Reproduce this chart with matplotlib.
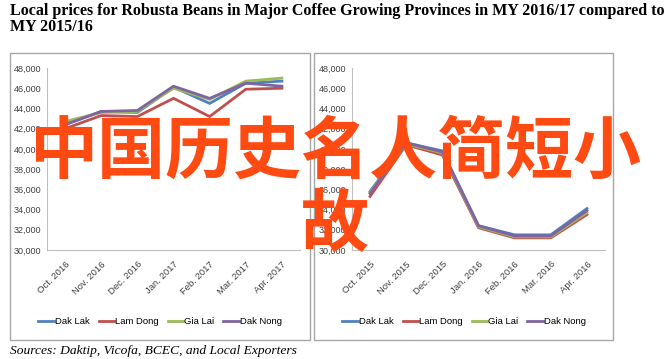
import matplotlib
matplotlib.use("Agg")
import matplotlib.pyplot as plt
from matplotlib.patches import Rectangle
from matplotlib.lines import Line2D

# Data
months_1617 = ["Oct. 2016", "Nov. 2016", "Dec. 2016", "Jan. 2017", "Feb. 2017", "Mar. 2017", "Apr. 2017"]
months_1516 = ["Oct. 2015", "Nov. 2015", "Dec. 2015", "Jan. 2016", "Feb. 2016", "Mar. 2016", "Apr. 2016"]
provinces = ["Dak Lak", "Lam Dong", "Gia Lai", "Dak Nong"]
colors = ["#4F81BD", "#C0504D", "#9BBB59", "#8064A2"]

dak_lak_1617 = [42400, 43700, 43600, 46100, 44500, 46500, 46700]
lam_dong_1617 = [42000, 43300, 43200, 45000, 43200, 45900, 46000]
gia_lai_1617 = [42700, 43600, 43700, 46000, 44900, 46700, 47000]
dak_nong_1617 = [42400, 43700, 43800, 46200, 45000, 46500, 46200]

dak_lak_1516 = [35800, 40600, 39800, 32400, 31500, 31500, 34100]
lam_dong_1516 = [35300, 40400, 39400, 32200, 31200, 31200, 33500]
gia_lai_1516 = [35700, 40500, 39600, 32300, 31300, 31300, 33700]
dak_nong_1516 = [35600, 40600, 39700, 32400, 31400, 31400, 33900]

yticks = list(range(30000, 48001, 2000))

W, H = 665, 359
fig = plt.figure(figsize=(W / 100, H / 100), dpi=100)
fig.patch.set_facecolor("white")

def fx(px):
    return px / W

def fy(py):
    return 1 - py / H

# panel frames
for x0, x1 in [(10, 310), (314, 613)]:
    fig.patches.append(Rectangle((fx(x0), fy(340)), fx(x1) - fx(x0), fy(53) - fy(340),
                                 transform=fig.transFigure, fill=False,
                                 edgecolor="#A6A6A6", linewidth=1.0))

tick_font = "Liberation Sans"

def draw_panel(left, right, labels, series, frame_mid):
    ax = fig.add_axes([fx(left), fy(250), fx(right) - fx(left), fy(68) - fy(250)])
    x = list(range(len(labels)))
    for vals, c in zip(series, colors):
        ax.plot(x, vals, color=c, linewidth=2.0)
    ax.set_xlim(-0.5, 6.5)
    ax.set_ylim(30000, 48000)
    ax.set_yticks(yticks)
    ax.set_yticklabels([f"{v:,}" for v in yticks], family=tick_font, fontsize=6.5, color="#404040")
    ax.set_xticks(x)
    ax.set_xticklabels(labels, rotation=45, ha="right", rotation_mode="anchor",
                       family=tick_font, fontsize=6.8, color="#404040")
    ax.tick_params(length=0, pad=4)
    ax.tick_params(axis="x", pad=7)
    for s in ["top", "right"]:
        ax.spines[s].set_visible(False)
    for s in ["left", "bottom"]:
        ax.spines[s].set_color("#BFBFBF")
        ax.spines[s].set_linewidth(0.8)
    # legend centred in the panel frame
    handles = [Line2D([], [], color=c, linewidth=2.0) for c in colors]
    fig.legend(handles, provinces, loc="center", bbox_to_anchor=(fx(frame_mid), fy(322)), ncol=4,
               frameon=False, prop={"family": tick_font, "size": 6.8},
               handlelength=1.6, handletextpad=0.1, columnspacing=1.0)
    return ax

draw_panel(47, 300, months_1617, [dak_lak_1617, lam_dong_1617, gia_lai_1617, dak_nong_1617], 160)
draw_panel(352, 605, months_1516, [dak_lak_1516, lam_dong_1516, gia_lai_1516, dak_nong_1516], 464)

# title and source
fig.text(fx(10), fy(3), "Local prices for Robusta Beans in Major Coffee Growing Provinces in MY 2016/17 compared to\nMY 2015/16",
         family="Liberation Serif", fontweight="bold", fontsize=11.5, va="top", ha="left",
         linespacing=1.0)
fig.text(fx(10), fy(351), "Sources: Daktip, Vicofa, BCEC, and Local Exporters",
         family="Liberation Serif", style="italic", fontsize=9.7, va="center", ha="left")

# overlaid watermark text
fig.text(fx(335), fy(153), "中国历史名人简短小", family=["Noto Sans CJK SC", "DejaVu Sans"],
         fontweight="bold", fontsize=49, color="#FF4A12", ha="center", va="center")
fig.text(fx(335), fy(226), "故", family=["Noto Sans CJK SC", "DejaVu Sans"],
         fontweight="bold", fontsize=49, color="#FF4A12", ha="center", va="center")

fig.savefig("out.png", dpi=100)
